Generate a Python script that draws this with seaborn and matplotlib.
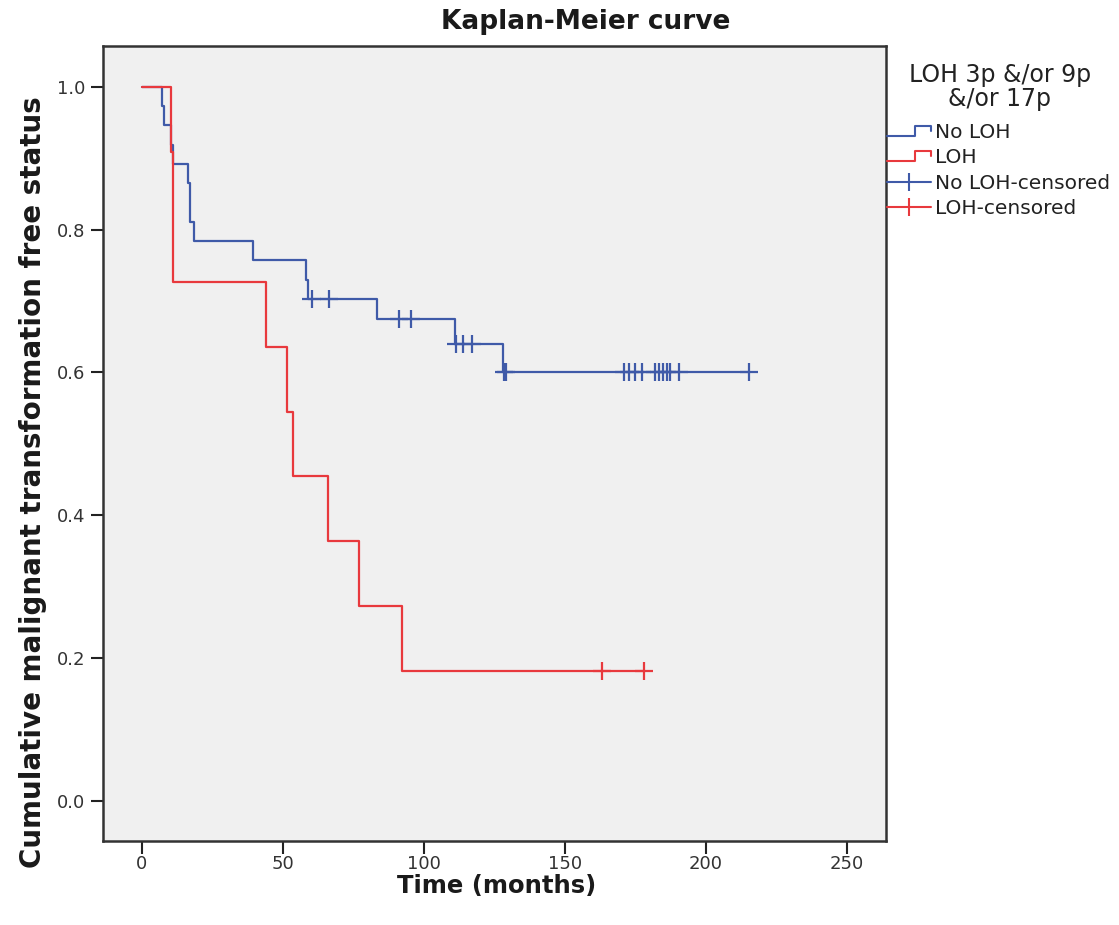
import pandas as pd
import seaborn as sns
import matplotlib.pyplot as plt
from matplotlib.lines import Line2D
from matplotlib.legend_handler import HandlerBase

# Kaplan-Meier steps (time in months, survival after the step)
noloh_time = [0, 7.0, 7.8, 10.5, 11.0, 16.2, 17.2, 18.5, 39.3, 58.2, 59.0, 83.3, 111.1, 128.3, 215.5]
noloh_surv = [1.0, 0.973, 0.946, 0.919, 0.892, 0.865, 0.811, 0.784, 0.757, 0.730, 0.703, 0.675, 0.640, 0.601, 0.601]
loh_time = [0, 10.3, 11.1, 43.9, 51.4, 53.5, 66.0, 77.0, 92.3, 178.2]
loh_surv = [1.0, 0.909, 0.727, 0.636, 0.545, 0.455, 0.364, 0.273, 0.182, 0.182]

# censored observations
noloh_cens_time = [60.2, 66.3, 91.3, 95.4, 111.5, 114.1, 117.0, 128.6, 129.2,
                   171.1, 173.0, 175.0, 177.4, 182.1, 183.6, 185.0, 186.2, 187.4, 190.4, 215.5]
noloh_cens_surv = [0.703, 0.703, 0.675, 0.675, 0.640, 0.640, 0.640, 0.601, 0.601,
                   0.601, 0.601, 0.601, 0.601, 0.601, 0.601, 0.601, 0.601, 0.601, 0.601, 0.601]
loh_cens_time = [163.2, 178.2]
loh_cens_surv = [0.182, 0.182]

palette = {'No LOH': '#3f5aa8', 'LOH': '#e8393d'}

curves = pd.concat([
    pd.DataFrame({'time': noloh_time, 'surv': noloh_surv, 'group': 'No LOH'}),
    pd.DataFrame({'time': loh_time, 'surv': loh_surv, 'group': 'LOH'}),
])
cens = pd.concat([
    pd.DataFrame({'time': noloh_cens_time, 'surv': noloh_cens_surv, 'group': 'No LOH'}),
    pd.DataFrame({'time': loh_cens_time, 'surv': loh_cens_surv, 'group': 'LOH'}),
])

sns.set_style('white')
plt.rcParams['font.family'] = ['DejaVu Sans']

fig = plt.figure(figsize=(11.19, 9.25), dpi=100)
ax = fig.add_axes([0.092, 0.0908, 0.7, 0.8595])
ax.set_facecolor('#f0f0f0')

sns.lineplot(data=curves, x='time', y='surv', hue='group', palette=palette,
             drawstyle='steps-post', estimator=None, sort=False,
             linewidth=1.6, legend=False, ax=ax)
sns.scatterplot(data=cens, x='time', y='surv', hue='group', palette=palette,
                marker='+', s=170, linewidth=1.6, legend=False, ax=ax, zorder=3)

ax.set_xlim(-13.8, 264.1)
ax.set_ylim(-0.056, 1.057)
ax.set_xticks([0, 50, 100, 150, 200, 250])
ax.set_yticks([0.0, 0.2, 0.4, 0.6, 0.8, 1.0])
ax.set_yticklabels(['%.1f' % v for v in [0.0, 0.2, 0.4, 0.6, 0.8, 1.0]])
ax.tick_params(direction='out', length=9, width=1.5, color='#222222',
               labelsize=13, labelcolor='#333333', bottom=True, left=True)
ax.tick_params(axis='x', pad=1)
for s in ax.spines.values():
    s.set_color('#333333')
    s.set_linewidth(1.8)

ax.set_xlabel('Time (months)', fontsize=17.5, fontweight='bold', color='#1a1a1a')
ax.set_ylabel('Cumulative malignant transformation free status', fontsize=20,
              fontweight='bold', color='#1a1a1a')
ax.xaxis.set_label_coords(0.503, -0.041)
ax.yaxis.set_label_coords(-0.072, 0.452)

fig.text(0.523, 1 - 22 / 925, 'Kaplan-Meier curve', ha='center', va='center',
         fontsize=19, fontweight='bold', color='#1a1a1a')

# legend title drawn separately so the gap above the entries matches
fig.text(1000 / 1119, 1 - 87 / 925, 'LOH 3p &/or 9p\n&/or 17p', ha='center', va='center',
         multialignment='center', linespacing=1.05, fontsize=17, color='#222222')


class StepHandler(HandlerBase):
    def create_artists(self, legend, orig_handle, xdescent, ydescent, width, height, fontsize, trans):
        x0 = -xdescent
        y0 = -ydescent
        xs = [x0, x0 + 0.63 * width, x0 + 0.63 * width, x0 + width, x0 + width]
        ys = [y0 + 0.15 * height, y0 + 0.15 * height, y0 + 0.85 * height, y0 + 0.85 * height, y0 + 0.5 * height]
        line = Line2D(xs, ys, color=orig_handle.get_color(), linewidth=1.5, transform=trans)
        return [line]


handles = [
    Line2D([], [], color=palette['No LOH']),
    Line2D([], [], color=palette['LOH']),
    Line2D([0], [0], color=palette['No LOH'], marker='|', markersize=13, markeredgewidth=1.5, linewidth=1.5),
    Line2D([0], [0], color=palette['LOH'], marker='|', markersize=13, markeredgewidth=1.5, linewidth=1.5),
]
labels = ['No LOH', 'LOH', 'No LOH-censored', 'LOH-censored']
leg = fig.legend(handles, labels,
                 loc='upper left', bbox_to_anchor=(887 / 1119, 1 - 123 / 925),
                 frameon=False, fontsize=14.5,
                 handlelength=2.2, handletextpad=0.2, labelspacing=0.32,
                 borderaxespad=0, borderpad=0,
                 handler_map={handles[0]: StepHandler(), handles[1]: StepHandler()})
for t in leg.get_texts():
    t.set_color('#222222')

fig.savefig('out.png', dpi=100)
